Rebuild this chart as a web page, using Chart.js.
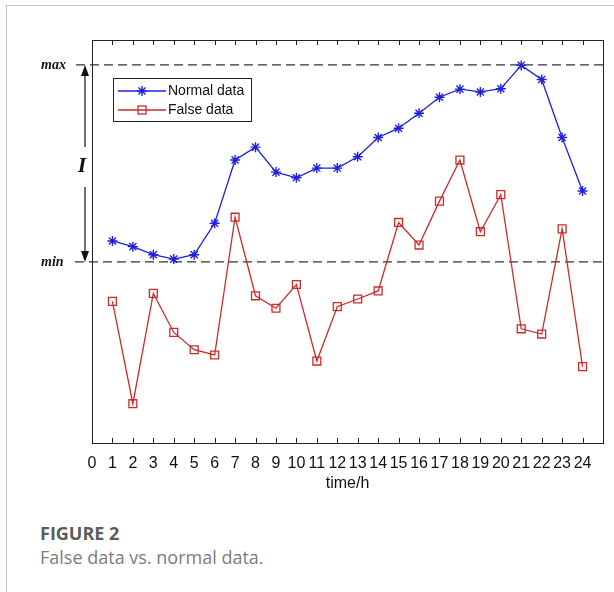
<!DOCTYPE html>
<html>
<head>
<meta charset="utf-8">
<script src="https://cdn.jsdelivr.net/npm/chart.js@4.4.0/dist/chart.umd.min.js"></script>
<style>
html, body { margin: 0; padding: 0; background: #fff; }
body { width: 614px; height: 592px; position: relative; overflow: hidden; }
.card { position: absolute; left: 6px; top: 5px; right: -2px; bottom: -2px; border-left: 1px solid #c6c6c6; border-top: 1px solid #c6c6c6; }
#wrap { position: absolute; left: 0; top: 0; width: 614px; height: 500px; }
.cap { position: absolute; left: 40px; top: 521px; font-family: "Open Sans", sans-serif; }
.cap .t { font-size: 18px; font-weight: 700; color: #5c5c5c; line-height: 24px; }
.cap .s { font-size: 18px; color: #7c7c7c; line-height: 24px; }
</style>
</head>
<body>
<div class="card"></div>
<div id="wrap"><canvas id="chart"></canvas></div>
<div class="cap">
  <div class="t">FIGURE 2</div>
  <div class="s">False data vs. normal data.</div>
</div>
<script>
document.addEventListener('DOMContentLoaded', function () {

    // hours on the x axis
    const hours = [1, 2, 3, 4, 5, 6, 7, 8, 9, 10, 11, 12, 13, 14, 15, 16, 17, 18, 19, 20, 21, 22, 23, 24];
    const xTickLabels = ['0', '1', '2', '3', '4', '5', '6', '7', '8', '9', '10', '11', '12', '13', '14', '15', '16', '17', '18', '19', '20', '21', '22', '23', '24'];

    // series (arbitrary units)
    const normalData = [50.1, 48.7, 46.7, 45.6, 46.7, 54.5, 70.2, 73.4, 67.2, 65.8, 68.2, 68.2,
                        71.0, 75.8, 78.1, 81.8, 85.8, 87.8, 87.1, 87.9, 93.7, 90.2, 75.8, 62.5];
    const falseData = [35.1, 9.7, 37.1, 27.4, 23.1, 21.8, 56.0, 36.5, 33.4, 39.3, 20.3, 33.8,
                       35.7, 37.7, 54.7, 49.1, 60.0, 70.2, 52.4, 61.6, 28.3, 27.0, 53.1, 18.9];

    // reference levels
    const maxLevel = 93.8;
    const minLevel = 44.9;

    const blue = '#2020dc';
    const red = '#cc2b2b';
    const axisFont = '"Liberation Sans", Arial, sans-serif';

    const toPoints = (arr) => hours.map((h, i) => ({ x: h, y: arr[i] }));

    const drawStar = (ctx, x, y, r, color) => {
        ctx.save();
        ctx.strokeStyle = color;
        ctx.lineWidth = 1.4;
        ctx.beginPath();
        for (let k = 0; k < 4; k++) {
            const a = k * Math.PI / 4;
            ctx.moveTo(x - r * Math.cos(a), y - r * Math.sin(a));
            ctx.lineTo(x + r * Math.cos(a), y + r * Math.sin(a));
        }
        ctx.stroke();
        ctx.restore();
    };

    const decorPlugin = {
        id: 'decor',
        beforeDatasetsDraw(chart) {
            const { ctx, chartArea, scales } = chart;
            const yMax = scales.y.getPixelForValue(maxLevel);
            const yMin = scales.y.getPixelForValue(minLevel);
            ctx.save();
            ctx.strokeStyle = '#333';
            ctx.lineWidth = 1.2;
            ctx.setLineDash([9, 5]);
            ctx.beginPath();
            ctx.moveTo(chartArea.left - 16, yMax);
            ctx.lineTo(chartArea.right, yMax);
            ctx.moveTo(chartArea.left - 17, yMin);
            ctx.lineTo(chartArea.right, yMin);
            ctx.stroke();
            ctx.restore();
        },
        afterDraw(chart) {
            const { ctx, chartArea, scales } = chart;
            const { left, right, top, bottom } = chartArea;
            ctx.save();

            // frame
            ctx.strokeStyle = '#222';
            ctx.lineWidth = 1;
            ctx.strokeRect(Math.round(left) + 0.5, Math.round(top) + 0.5, Math.round(right - left), Math.round(bottom - top));

            // inward ticks
            ctx.beginPath();
            hours.forEach(h => {
                const px = Math.round(scales.x.getPixelForValue(h)) + 0.5;
                ctx.moveTo(px, top);
                ctx.lineTo(px, top + 5);
                ctx.moveTo(px, bottom);
                ctx.lineTo(px, bottom - 5);
            });
            ctx.stroke();

            // axis title
            ctx.fillStyle = '#111';
            ctx.font = '16px ' + axisFont;
            ctx.textAlign = 'center';
            ctx.textBaseline = 'middle';
            ctx.fillText('time/h', (left + right) / 2, bottom + 41);

            // max / min labels and the I arrow
            const yMax = scales.y.getPixelForValue(maxLevel);
            const yMin = scales.y.getPixelForValue(minLevel);
            ctx.font = 'italic bold 14px "Liberation Serif", serif';
            ctx.textAlign = 'left';
            ctx.fillText('max', 41, yMax);
            ctx.fillText('min', 41, yMin);

            const ax = 85;
            ctx.strokeStyle = '#111';
            ctx.lineWidth = 1.2;
            ctx.beginPath();
            ctx.moveTo(ax, yMax + 6);
            ctx.lineTo(ax, 147);
            ctx.moveTo(ax, 187);
            ctx.lineTo(ax, yMin - 6);
            ctx.stroke();
            ctx.beginPath();
            ctx.moveTo(ax, yMax);
            ctx.lineTo(ax - 4, yMax + 11);
            ctx.lineTo(ax + 4, yMax + 11);
            ctx.closePath();
            ctx.moveTo(ax, yMin);
            ctx.lineTo(ax - 4, yMin - 11);
            ctx.lineTo(ax + 4, yMin - 11);
            ctx.closePath();
            ctx.fill();
            ctx.font = 'italic bold 22px "Liberation Serif", serif';
            ctx.textAlign = 'center';
            ctx.fillText('I', ax - 3, 166);

            // legend
            const lx = left + 21, ly = top + 38;
            ctx.fillStyle = '#fff';
            ctx.fillRect(lx, ly, 138, 43);
            ctx.strokeStyle = '#222';
            ctx.lineWidth = 1;
            ctx.strokeRect(lx + 0.5, ly + 0.5, 138, 43);
            const rows = [
                { label: 'Normal data', color: blue, y: ly + 13 },
                { label: 'False data', color: red, y: ly + 32 }
            ];
            rows.forEach((r, i) => {
                ctx.strokeStyle = r.color;
                ctx.lineWidth = 1.3;
                ctx.beginPath();
                ctx.moveTo(lx + 5, r.y);
                ctx.lineTo(lx + 53, r.y);
                ctx.stroke();
                if (i === 0) {
                    drawStar(ctx, lx + 29, r.y, 5, blue);
                } else {
                    ctx.strokeRect(lx + 25, r.y - 4, 8, 8);
                }
                ctx.fillStyle = '#111';
                ctx.font = '14px ' + axisFont;
                ctx.textAlign = 'left';
                ctx.fillText(r.label, lx + 55, r.y);
            });
            ctx.restore();
        }
    };

    const ctx = document.getElementById('chart');
    new Chart(ctx, {
        type: 'line',
        data: {
            datasets: [
                {
                    label: 'Normal data',
                    data: toPoints(normalData),
                    borderColor: blue,
                    backgroundColor: blue,
                    borderWidth: 1.3,
                    pointStyle: 'star',
                    pointRadius: 5,
                    pointBorderWidth: 1.4,
                    pointBorderColor: blue,
                    tension: 0
                },
                {
                    label: 'False data',
                    data: toPoints(falseData),
                    borderColor: red,
                    backgroundColor: 'rgba(255,255,255,0)',
                    borderWidth: 1.3,
                    pointStyle: 'rect',
                    pointRadius: 5.6,
                    pointBorderWidth: 1.3,
                    pointBorderColor: red,
                    tension: 0
                }
            ]
        },
        options: {
            responsive: true,
            maintainAspectRatio: false,
            animation: false,
            layout: {
                padding: { left: 92, right: 8, top: 40, bottom: 16 }
            },
            plugins: {
                legend: { display: false },
                tooltip: { enabled: false }
            },
            scales: {
                x: {
                    type: 'linear',
                    min: 0,
                    max: 25,
                    grid: { display: false, drawTicks: false },
                    border: { display: false },
                    ticks: {
                        stepSize: 1,
                        autoSkip: false,
                        maxRotation: 0,
                        padding: 11,
                        color: '#111',
                        font: { family: axisFont, size: 16 },
                        callback: (v) => xTickLabels[v] !== undefined ? xTickLabels[v] : ''
                    }
                },
                y: {
                    display: false,
                    min: 0,
                    max: 100
                }
            }
        },
        plugins: [decorPlugin]
    });
});
</script>
</body>
</html>
